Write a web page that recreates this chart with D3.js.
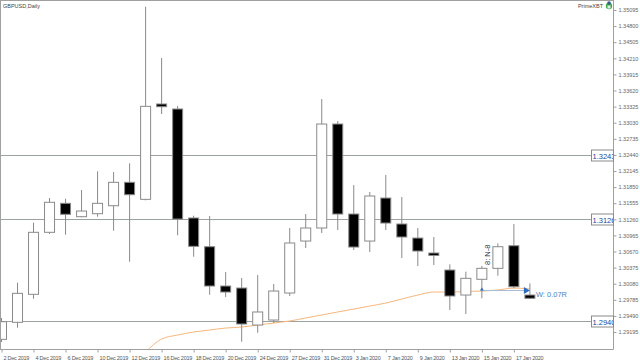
<!DOCTYPE html>
<html><head><meta charset="utf-8">
<script src="https://cdn.jsdelivr.net/npm/d3@7/dist/d3.min.js"></script>
<style>
html,body{margin:0;padding:0;background:#fff;}
svg{display:block;}
text{font-family:"Liberation Sans",Arial,sans-serif;}
</style></head><body>
<svg id="c" width="640" height="360"></svg>
<script>
const title = "GBPUSD,Daily";
const brand = "PrimeXBT";
const dates = ["2019-12-02","2019-12-03","2019-12-04","2019-12-05","2019-12-06","2019-12-09","2019-12-10","2019-12-11","2019-12-12","2019-12-13","2019-12-16","2019-12-17","2019-12-18","2019-12-19","2019-12-20","2019-12-23","2019-12-24","2019-12-26","2019-12-27","2019-12-30","2019-12-31","2020-01-02","2020-01-03","2020-01-06","2020-01-07","2020-01-08","2020-01-09","2020-01-10","2020-01-13","2020-01-14","2020-01-15","2020-01-16","2020-01-17","2020-01-20"];
const open  = [1.29061,1.29373,1.29886,1.31022,1.31553,1.31308,1.31363,1.31509,1.31938,1.31626,1.33373,1.33281,1.31284,1.30758,1.30038,1.30001,1.29323,1.29415,1.29910,1.30862,1.31101,1.33006,1.31357,1.30862,1.31650,1.31174,1.30917,1.30643,1.30331,1.29873,1.30161,1.30362,1.30776,1.29873];
const high  = [1.29452,1.30098,1.31198,1.31650,1.31637,1.31797,1.32140,1.32127,1.32286,1.35155,1.34215,1.33336,1.31326,1.31320,1.30294,1.30185,1.30240,1.30075,1.31101,1.31357,1.33464,1.33061,1.31888,1.31760,1.32072,1.31669,1.31101,1.30936,1.30436,1.30300,1.30404,1.30820,1.31174,1.30087];
const low   = [1.29012,1.29274,1.29805,1.30991,1.30978,1.31297,1.31308,1.31051,1.30483,1.31608,1.33189,1.30967,1.30575,1.29879,1.29836,1.29017,1.29182,1.29360,1.29855,1.30734,1.31009,1.31064,1.30697,1.30661,1.31064,1.30551,1.30404,1.30423,1.29598,1.29525,1.29813,1.30227,1.29996,1.29800];
const close = [1.29384,1.29904,1.31022,1.31572,1.31352,1.31412,1.31553,1.31938,1.31711,1.33330,1.33323,1.31265,1.30765,1.30038,1.29928,1.29342,1.29562,1.29946,1.30826,1.31101,1.33006,1.31357,1.30752,1.31687,1.31192,1.30936,1.30679,1.30597,1.29855,1.30179,1.30362,1.30758,1.30025,1.29813];
const ma    = [null,null,null,null,null,null,null,null,null,1.28829,1.29067,1.29140,1.29195,1.29232,1.29268,1.29287,1.29323,1.29360,1.29397,1.29452,1.29507,1.29562,1.29616,1.29671,1.29726,1.29800,1.29873,1.29928,1.29928,1.29937,1.29946,1.29965,1.30001,1.29983];
const levels = [1.3243, 1.3126, 1.2940];
const levelLabels = ["1.3243", "1.3126", "1.2940"];
const priceTicks = [1.35095,1.34800,1.34505,1.34210,1.33915,1.33620,1.33325,1.33030,1.32735,1.32440,1.32145,1.31850,1.31555,1.31260,1.30965,1.30670,1.30375,1.30080,1.29785,1.29490,1.29195];
const dateTickIdx = [0,2,4,6,8,10,12,14,16,18,20,22,24,26,28,30,32];
const tradeFrom = 30, tradeTo = 33, tradePrice = 1.29956;
const tradeText = "W: 0.07R";
const markText = "8: N-8";

const svg = d3.select("#c");
const L = 1, R = 613, T = 1, B = 349;
const x = d3.scaleLinear().domain([0, 38.19]).range([L + 0.5, R]);
const y = d3.scaleLinear().domain([1.28884, 1.35260]).range([B, T]);

svg.append("defs").append("clipPath").attr("id","plot")
  .append("rect").attr("x", L).attr("y", T).attr("width", R - L).attr("height", B - T);

const g = svg.append("g").attr("clip-path","url(#plot)");

g.selectAll("line.lvl").data(levels).join("line")
  .attr("x1", L).attr("x2", R - 22)
  .attr("y1", d => Math.round(y(d)) + 0.5).attr("y2", d => Math.round(y(d)) + 0.5)
  .attr("stroke", "#9ca39f").attr("stroke-width", 1);

const maLine = d3.line().defined(d => d != null).x((d, i) => x(i)).y(d => y(d)).curve(d3.curveMonotoneX);
g.append("path").datum(ma).attr("d", maLine)
  .attr("fill","none").attr("stroke","#f7b77c").attr("stroke-width",1);

const idx = d3.range(dates.length);
const bw = 10;
g.selectAll("line.wick").data(idx).join("line")
  .attr("x1", i => x(i)).attr("x2", i => x(i))
  .attr("y1", i => y(high[i])).attr("y2", i => y(low[i]))
  .attr("stroke", "#8a8a8a").attr("stroke-width", 1);
g.selectAll("rect.body").data(idx).join("rect")
  .attr("x", i => x(i) - bw / 2).attr("width", bw)
  .attr("y", i => y(Math.max(open[i], close[i])))
  .attr("height", i => Math.max(1, Math.abs(y(open[i]) - y(close[i]))))
  .attr("fill", i => close[i] >= open[i] ? "#ffffff" : "#000000")
  .attr("stroke", "#8a8a8a").attr("stroke-width", 1);

const ty = Math.round(y(tradePrice)) + 0.5;
g.append("line").attr("x1", x(tradeFrom)).attr("x2", x(tradeTo) - 4)
  .attr("y1", ty).attr("y2", ty).attr("stroke", "#a9bcd6").attr("stroke-width", 1);
g.append("path")
  .attr("d", `M${x(tradeTo) - 6},${ty - 3.5} L${x(tradeTo)},${ty} L${x(tradeTo) - 6},${ty + 3.5} Z`)
  .attr("fill", "#2b6cc4");
g.append("path")
  .attr("d", `M${x(tradeFrom) - 2},${ty} L${x(tradeFrom)},${ty - 3} L${x(tradeFrom) + 2},${ty} Z`)
  .attr("fill", "#2b6cc4");
g.append("text").attr("x", x(tradeTo) + 6).attr("y", ty + 6)
  .attr("font-size", 7.5).attr("fill", "#4a88cc").text(tradeText);
g.append("text")
  .attr("transform", `translate(${x(tradeFrom) + 8},${y(high[tradeFrom]) - 1}) rotate(-90)`)
  .attr("font-size", 7.5).attr("fill", "#2c3550").text(markText);

svg.append("line").attr("x1", 0).attr("x2", R).attr("y1", 0.5).attr("y2", 0.5).attr("stroke","#a0a0a0");
svg.append("line").attr("x1", 0.5).attr("x2", 0.5).attr("y1", 0).attr("y2", B).attr("stroke","#a0a0a0");
svg.append("line").attr("x1", R + 0.5).attr("x2", R + 0.5).attr("y1", 0).attr("y2", B + 0.5).attr("stroke","#a0a0a0");
svg.append("line").attr("x1", 0).attr("x2", R + 0.5).attr("y1", B + 0.5).attr("y2", B + 0.5).attr("stroke","#a0a0a0");

const ay = svg.append("g").attr("transform", `translate(${R + 0.5},0)`)
  .call(d3.axisRight(y).tickValues(priceTicks).tickSize(3).tickPadding(2).tickFormat(d3.format(".5f")));
ay.select(".domain").remove();
ay.selectAll("line").attr("stroke","#a0a0a0");
ay.selectAll("text").attr("font-size", 5.5).attr("fill","#666").attr("font-family","Liberation Sans, Arial, sans-serif");

const fmt = d3.timeFormat("%-d %b %Y");
const parse = d3.timeParse("%Y-%m-%d");
const ax = svg.append("g").attr("transform", `translate(0,${B + 0.5})`)
  .call(d3.axisBottom(x).tickValues(dateTickIdx).tickSize(3).tickFormat(i => fmt(parse(dates[i]))));
ax.select(".domain").remove();
ax.selectAll("line").attr("stroke","#a0a0a0");
ax.selectAll("text").attr("text-anchor","start").attr("x", 1.5).attr("y", 6.8).attr("dy", 0)
  .attr("font-size", 5.5).attr("letter-spacing", -0.25).attr("fill","#555")
  .attr("font-family","Liberation Sans, Arial, sans-serif")
  .attr("dominant-baseline","hanging");

levels.forEach((v, k) => {
  const cy = Math.round(y(v)) + 0.5;
  const bx = R - 22;
  svg.append("clipPath").attr("id", "lc" + k).append("rect")
    .attr("x", bx).attr("y", cy - 5.5).attr("width", 22).attr("height", 11);
  svg.append("rect").attr("x", bx + 0.5).attr("y", cy - 5.5).attr("width", 22).attr("height", 11)
    .attr("fill", "#fff").attr("stroke", "#8a8a8a");
  svg.append("text").attr("clip-path", `url(#lc${k})`).attr("x", bx + 1.5).attr("y", cy + 3)
    .attr("font-size", 7.5).attr("fill", "#1d4597").text(levelLabels[k]);
});

svg.append("text").attr("x", 3).attr("y", 7.5).attr("font-size", 5.5).attr("fill", "#444").text(title);
svg.append("text").attr("x", 603).attr("y", 7.5).attr("text-anchor","end").attr("font-size", 5.5).attr("fill", "#444").text(brand);
svg.append("circle").attr("cx", 609).attr("cy", 6).attr("r", 3.2).attr("fill", "#3fae49");
svg.append("circle").attr("cx", 609).attr("cy", 3).attr("r", 1.8).attr("fill", "#335d8f");
svg.append("rect").attr("x", 607.5).attr("y", 5.5).attr("width", 3).attr("height", 3).attr("fill", "#e8e8e8");
</script>
</body></html>
